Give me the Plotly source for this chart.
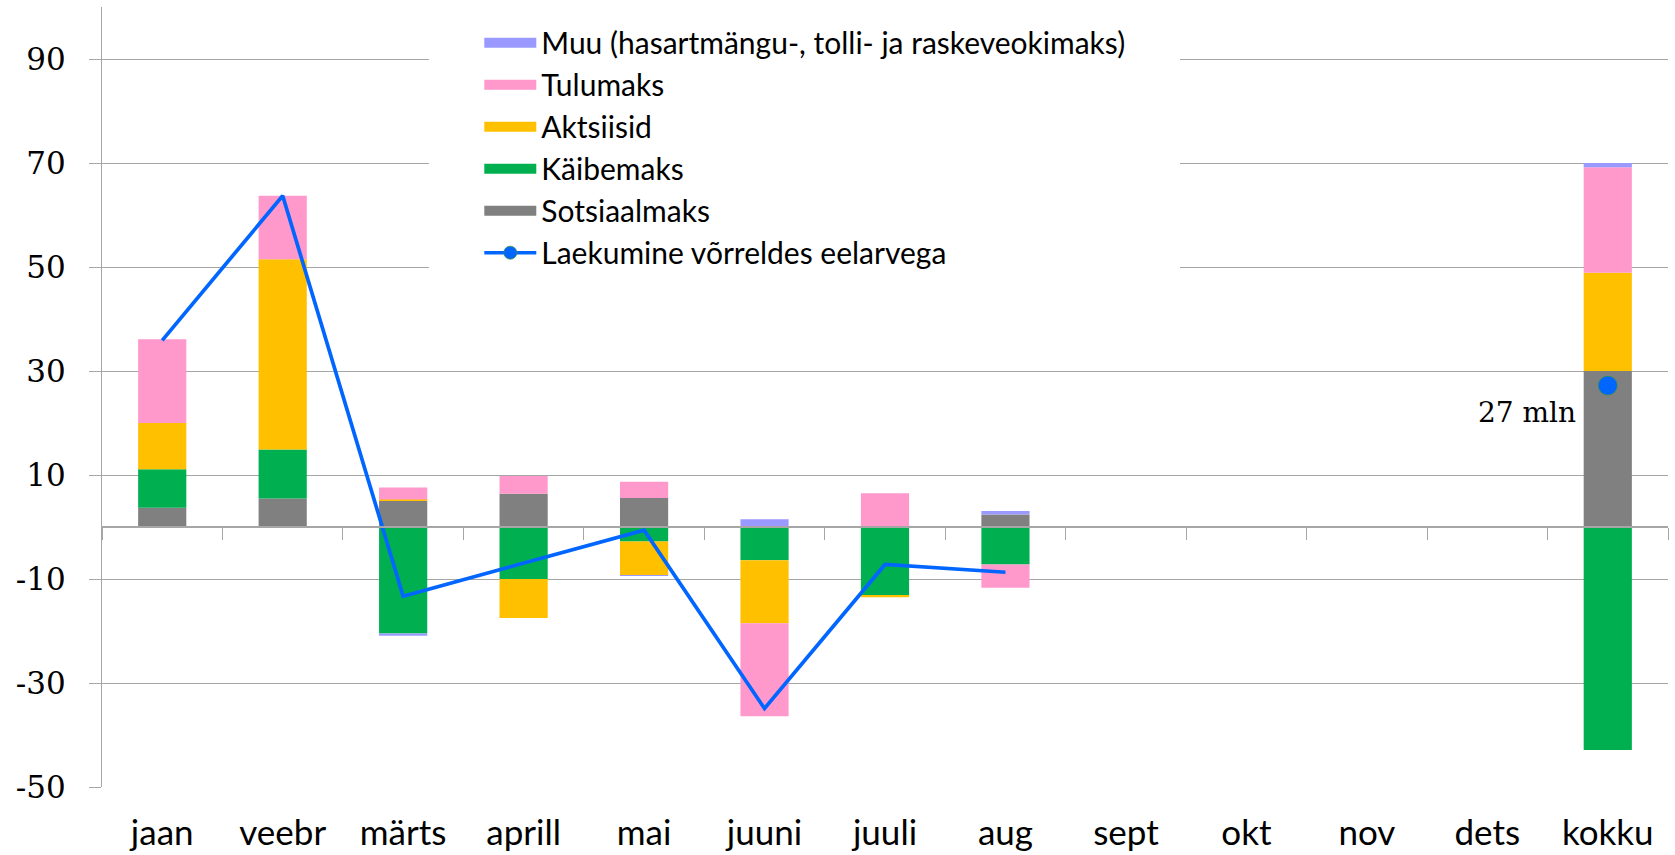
import plotly.graph_objects as go

categories = ["jaan", "veebr", "märts", "aprill", "mai", "juuni", "juuli", "aug",
              "sept", "okt", "nov", "dets", "kokku"]

sotsiaalmaks = [3.7, 5.5, 5.0, 6.4, 5.6, 0.1, 0.2, 2.4, None, None, None, None, 30.0]
kaibemaks = [7.4, 9.4, -20.5, -10.0, -2.8, -6.4, -13.1, -7.2, None, None, None, None, -42.9]
aktsiisid = [8.9, 36.6, 0.3, -7.5, -6.5, -12.1, -0.4, 0.0, None, None, None, None, 18.9]
tulumaks = [16.1, 12.2, 2.3, 3.4, 3.1, -17.9, 6.3, -4.5, None, None, None, None, 20.3]
muu = [0.0, 0.0, -0.4, 0.0, -0.1, 1.4, 0.0, 0.7, None, None, None, None, 0.8]
laekumine = [35.9, 63.7, -13.3, -7.0, -0.6, -34.9, -7.2, -8.7, None, None, None, None, 27.2]

y_ticks = [-50, -30, -10, 10, 30, 50, 70, 90]
y_ticklabels = ["-50", "-30", "-10", "10", "30", "50", "70", "90"]

series = [
    ("Sotsiaalmaks", sotsiaalmaks, "#808080", 5),
    ("Käibemaks", kaibemaks, "#00B050", 4),
    ("Aktsiisid", aktsiisid, "#FFC000", 3),
    ("Tulumaks", tulumaks, "#FF99CC", 2),
    ("Muu (hasartmängu-, tolli- ja raskeveokimaks)", muu, "#9999FF", 1),
]
line_name = "Laekumine võrreldes eelarvega"

LINE_BLUE = "#0066FF"
GRID = "#A6A6A6"
SANS = "Lato, Carlito, sans-serif"
SERIF = "DejaVu Serif, Liberation Serif, serif"

fig = go.Figure()
for name, vals, color, rank in series:
    fig.add_trace(go.Bar(
        x=categories, y=vals, name=name, marker=dict(color=color, line=dict(width=0)),
        showlegend=False, xaxis="x", yaxis="y",
    ))

fig.add_trace(go.Scatter(
    x=categories[:12], y=laekumine[:12], mode="lines",
    line=dict(color=LINE_BLUE, width=3.7), showlegend=False,
    xaxis="x2", yaxis="y", connectgaps=False,
))
fig.add_trace(go.Scatter(
    x=categories[12:], y=laekumine[12:], mode="markers", showlegend=False,
    marker=dict(color=LINE_BLUE, size=19, line=dict(color="#3E8E4E", width=0.8)),
    xaxis="x2", yaxis="y",
))

# legend entries (wide swatches like the original)
for name, vals, color, rank in series:
    fig.add_trace(go.Scatter(
        x=[None], y=[None], mode="lines", name=name,
        line=dict(color=color, width=17), legendrank=rank,
        xaxis="x2", yaxis="y",
    ))
fig.add_trace(go.Scatter(
    x=[None], y=[None], mode="lines+markers", name=line_name,
    line=dict(color=LINE_BLUE, width=3.5),
    marker=dict(color=LINE_BLUE, size=13, line=dict(color="#3E8E4E", width=0.8)),
    legendrank=6, xaxis="x2", yaxis="y",
))

fig.add_annotation(
    x=categories[-1], y=laekumine[-1], xref="x2", yref="y",
    text=f"{round(laekumine[-1])} mln", showarrow=False,
    xanchor="right", yanchor="top", xshift=-30, yshift=-8,
    font=dict(family=SERIF, size=28, color="#000000"),
)

xrange = [-0.5, len(categories) - 0.5]
fig.update_layout(
    width=1675, height=855,
    margin=dict(l=102, r=7, t=7, b=68, autoexpand=False),
    paper_bgcolor="white", plot_bgcolor="white",
    barmode="relative", bargap=0.6,
    showlegend=True,
    legend=dict(
        x=0.209, y=1.0517, xanchor="left", yanchor="top",
        bgcolor="white", bordercolor="white", borderwidth=50,
        traceorder="normal", itemwidth=52,
        font=dict(family=SANS, size=30, color="#000000"),
    ),
    xaxis=dict(
        type="category", categoryorder="array", categoryarray=categories,
        range=xrange, showgrid=False, showline=False, ticks="", zeroline=False,
        ticklabelstandoff=22,
        tickfont=dict(family=SANS, size=35, color="#000000"),
    ),
    xaxis2=dict(
        type="category", categoryorder="array", categoryarray=categories,
        range=xrange, overlaying="x", anchor="free", position=1 / 3,
        showline=True, linecolor=GRID, linewidth=1.5,
        ticks="outside", tickson="boundaries", ticklen=12, tickcolor=GRID, tickwidth=1.3,
        showticklabels=False, showgrid=False, zeroline=False,
    ),
    yaxis=dict(
        range=[-50, 100], tickvals=y_ticks, ticktext=y_ticklabels,
        showgrid=True, gridcolor=GRID, gridwidth=1.3, zeroline=False,
        showline=True, linecolor=GRID, linewidth=1.3,
        ticks="outside", ticklen=12, tickcolor=GRID, tickwidth=1.3,
        ticklabelstandoff=17,
        tickfont=dict(family=SERIF, size=31, color="#000000"),
    ),
)

fig.write_html(
    "out.html",
    config={"displayModeBar": False},
    post_script="document.body.style.margin='0px';",
)
